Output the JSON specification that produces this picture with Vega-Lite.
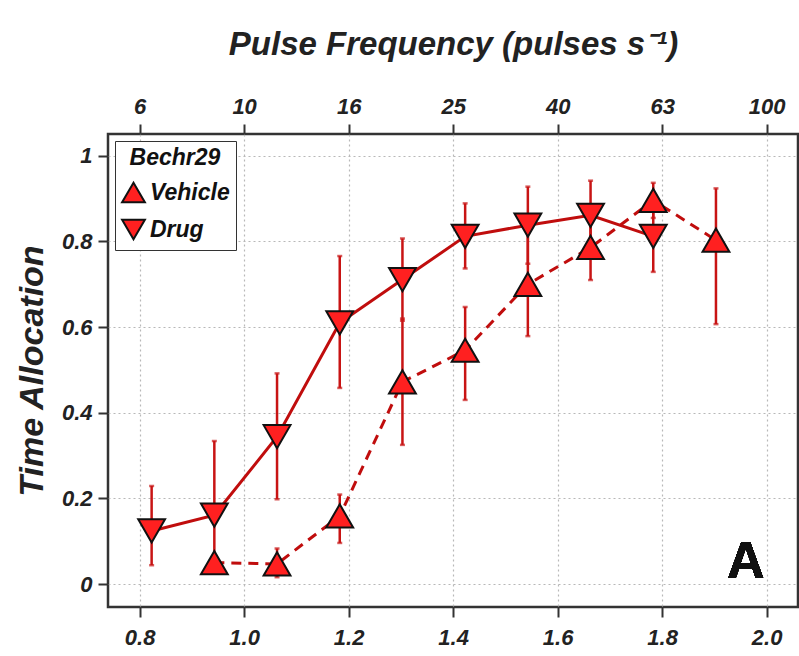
{
  "$schema": "https://vega.github.io/schema/vega-lite/v6.json",
  "width": 690,
  "height": 473,
  "autosize": {"type": "none"},
  "padding": {"left": 108, "top": 134, "right": 1, "bottom": 49},
  "background": "white",
  "config": {
    "font": "Liberation Sans",
    "view": {"stroke": "#333333", "strokeWidth": 2.5},
    "axis": {
      "labelFont": "Liberation Sans",
      "labelFontStyle": "italic",
      "labelFontWeight": "bold",
      "labelFontSize": 22,
      "labelColor": "#222222",
      "tickColor": "#333333",
      "tickWidth": 2,
      "tickSize": 10,
      "domain": false,
      "gridColor": "#b8b8b8",
      "gridDash": [2, 3],
      "gridWidth": 1.2,
      "titleFont": "Liberation Sans",
      "titleFontStyle": "italic",
      "titleFontWeight": "bold",
      "titleColor": "#222222"
    },
    "legend": {
      "titleFont": "Liberation Sans",
      "labelFont": "Liberation Sans",
      "titleFontStyle": "italic",
      "titleFontWeight": "bold",
      "labelFontStyle": "italic",
      "labelFontWeight": "bold",
      "titleColor": "#111111",
      "labelColor": "#111111"
    }
  },
  "data": {
    "values": [
      {"group": "Drug", "x": 0.823, "y": 0.124, "lo": 0.044, "hi": 0.229},
      {"group": "Drug", "x": 0.943, "y": 0.161, "lo": 0.03, "hi": 0.334},
      {"group": "Drug", "x": 1.063, "y": 0.344, "lo": 0.198, "hi": 0.492},
      {"group": "Drug", "x": 1.183, "y": 0.61, "lo": 0.458, "hi": 0.766},
      {"group": "Drug", "x": 1.303, "y": 0.711, "lo": 0.615, "hi": 0.807},
      {"group": "Drug", "x": 1.423, "y": 0.812, "lo": 0.737, "hi": 0.889},
      {"group": "Drug", "x": 1.543, "y": 0.838, "lo": 0.748, "hi": 0.928},
      {"group": "Drug", "x": 1.663, "y": 0.861, "lo": 0.78, "hi": 0.942},
      {"group": "Drug", "x": 1.783, "y": 0.812, "lo": 0.729, "hi": 0.895},
      {"group": "Vehicle", "x": 0.943, "y": 0.05, "lo": 0.04, "hi": 0.06},
      {"group": "Vehicle", "x": 1.063, "y": 0.047, "lo": 0.016, "hi": 0.083},
      {"group": "Vehicle", "x": 1.183, "y": 0.159, "lo": 0.096, "hi": 0.209},
      {"group": "Vehicle", "x": 1.303, "y": 0.472, "lo": 0.325, "hi": 0.62},
      {"group": "Vehicle", "x": 1.423, "y": 0.546, "lo": 0.43, "hi": 0.647},
      {"group": "Vehicle", "x": 1.543, "y": 0.7, "lo": 0.579, "hi": 0.82},
      {"group": "Vehicle", "x": 1.663, "y": 0.786, "lo": 0.71, "hi": 0.86},
      {"group": "Vehicle", "x": 1.783, "y": 0.896, "lo": 0.855, "hi": 0.937},
      {"group": "Vehicle", "x": 1.903, "y": 0.803, "lo": 0.607, "hi": 0.924}
    ]
  },
  "resolve": {"axis": {"x": "independent"}},
  "layer": [
    {
      "mark": {"type": "rule", "color": "#c81414", "strokeWidth": 2.5},
      "encoding": {
        "x": {
          "field": "x", "type": "quantitative",
          "scale": {"domain": [0.7395, 2.06], "nice": false, "zero": false},
          "axis": {"orient": "bottom", "values": [0.8, 1.0, 1.2, 1.4, 1.6, 1.8, 2.0], "format": ".1f", "title": null, "labelPadding": 10, "grid": true}
        },
        "y": {
          "field": "lo", "type": "quantitative",
          "scale": {"domain": [-0.0536, 1.051], "nice": false, "zero": false},
          "axis": {"orient": "left", "values": [0, 0.2, 0.4, 0.6, 0.8, 1], "format": "~g", "title": "Time Allocation", "titleFontSize": 34, "titlePadding": 12, "labelPadding": 6, "grid": true}
        },
        "y2": {"field": "hi"}
      }
    },
    {
      "mark": {"type": "tick", "orient": "horizontal", "color": "#c81414", "size": 5, "thickness": 2.5},
      "encoding": {
        "x": {"field": "x", "type": "quantitative", "axis": null},
        "y": {"field": "lo", "type": "quantitative"}
      }
    },
    {
      "mark": {"type": "tick", "orient": "horizontal", "color": "#c81414", "size": 5, "thickness": 2.5},
      "encoding": {
        "x": {"field": "x", "type": "quantitative", "axis": null},
        "y": {"field": "hi", "type": "quantitative"}
      }
    },
    {
      "transform": [{"filter": "datum.group === 'Drug'"}],
      "mark": {"type": "line", "color": "#c00d0d", "strokeWidth": 3},
      "encoding": {
        "x": {
          "field": "x", "type": "quantitative",
          "axis": {"orient": "top", "values": [0.8, 1.0, 1.2, 1.4, 1.6, 1.8, 2.0], "labelExpr": "format(round(pow(10, datum.value)), 'd')", "title": "Pulse Frequency (pulses s⁻¹)", "titleFontSize": 33, "titlePadding": 34, "labelPadding": 6, "grid": false}
        },
        "y": {"field": "y", "type": "quantitative"}
      }
    },
    {
      "transform": [{"filter": "datum.group === 'Vehicle'"}],
      "mark": {"type": "line", "color": "#c00d0d", "strokeWidth": 3, "strokeDash": [10, 7]},
      "encoding": {
        "x": {"field": "x", "type": "quantitative", "axis": null},
        "y": {"field": "y", "type": "quantitative"}
      }
    },
    {
      "mark": {"type": "point", "filled": false, "fill": "#ff2020", "fillOpacity": 1, "strokeWidth": 2, "size": 720, "opacity": 1},
      "encoding": {
        "x": {"field": "x", "type": "quantitative", "axis": null},
        "y": {"field": "y", "type": "quantitative"},
        "stroke": {
          "field": "group", "type": "nominal",
          "scale": {"domain": ["Vehicle", "Drug"], "range": ["#111111", "#111111"]},
          "legend": {"title": "Bechr29"}
        },
        "shape": {
          "field": "group", "type": "nominal",
          "scale": {"domain": ["Vehicle", "Drug"], "range": ["triangle-up", "triangle-down"]},
          "legend": {
            "title": "Bechr29",
            "orient": "top-left",
            "offset": 7,
            "strokeColor": "#333333",
            "fillColor": "white",
            "padding": 6,
            "titleFontSize": 23,
            "titleAnchor": "middle",
            "titlePadding": 10,
            "labelFontSize": 23,
            "labelOffset": 4,
            "symbolSize": 520,
            "symbolFillColor": "#ff2020",
            "symbolStrokeWidth": 2,
            "symbolOpacity": 1,
            "rowPadding": 8
          }
        }
      }
    },
    {
      "mark": {"type": "text", "text": "A", "fontSize": 52, "fontWeight": "bold", "font": "Liberation Sans", "align": "center", "baseline": "alphabetic", "color": "#111111"},
      "encoding": {
        "x": {"datum": 1.96, "type": "quantitative", "axis": null},
        "y": {"datum": 0.015, "type": "quantitative"}
      }
    }
  ]
}
